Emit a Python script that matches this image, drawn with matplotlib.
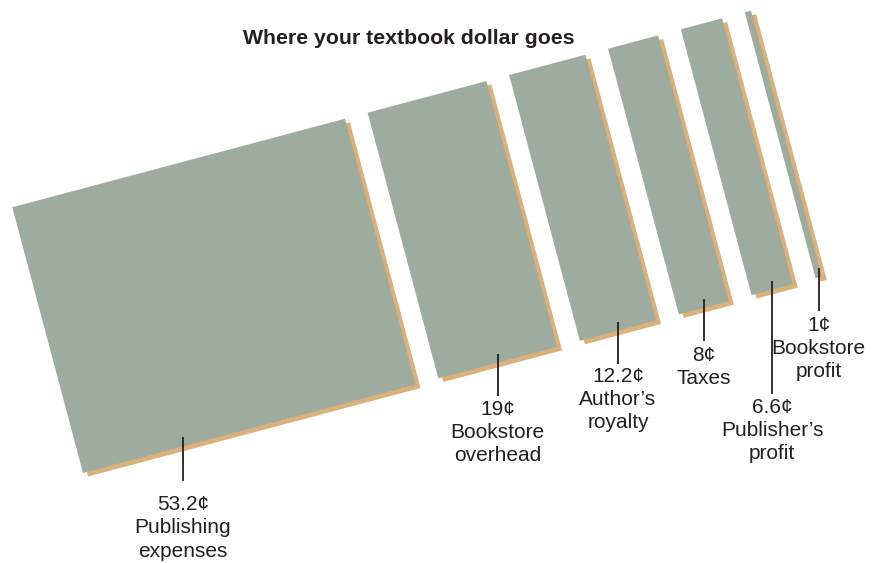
import matplotlib
matplotlib.use("Agg")
import matplotlib.pyplot as plt
from matplotlib.patches import Rectangle
from matplotlib.transforms import Affine2D

# Share of each textbook dollar, in cents
categories = ["Publishing\nexpenses", "Bookstore\noverhead", "Author\u2019s\nroyalty",
              "Taxes", "Publisher\u2019s\nprofit", "Bookstore\nprofit"]
cents = [53.2, 19, 12.2, 8, 6.6, 1]
value_labels = ["53.2\u00a2", "19\u00a2", "12.2\u00a2", "8\u00a2", "6.6\u00a2", "1\u00a2"]

# Layout (figure pixels, y up)
W, Hpx = 872, 563
px_per_cent = 6.47
angle = 14.9
origin = (83, 563 - 473)
bar_height = 275 / px_per_cent
gap = 23.5 / px_per_cent
shadow_dx, shadow_dy = 5, -3.5
leader_frac = [0.30, 0.5, 0.5, 0.5, 0.5, 0.5]
leader_len = [44, 42, 42, 42, 113, 43]
text_gap = [18, 8, 7, 9, 8, 9]

green = "#9eac9f"
orange = "#dbb07b"
ink = "#231f20"

plt.rcParams["font.family"] = ["Liberation Sans", "DejaVu Sans"]

fig = plt.figure(figsize=(W / 100, Hpx / 100), dpi=100)
ax = fig.add_axes([0, 0, 1, 1])
ax.set_xlim(0, W)
ax.set_ylim(0, Hpx)
ax.axis("off")

frame = Affine2D().scale(px_per_cent).rotate_deg(angle).translate(*origin)
shadow_frame = frame + Affine2D().translate(shadow_dx, shadow_dy)

starts = []
pos = 0.0
for v in cents:
    starts.append(pos)
    pos += v + gap

for x0, v in zip(starts, cents):
    ax.add_patch(Rectangle((x0, 0), v, bar_height, facecolor=orange, edgecolor="none",
                           transform=shadow_frame + ax.transData))
for x0, v in zip(starts, cents):
    ax.add_patch(Rectangle((x0, 0), v, bar_height, facecolor=green, edgecolor="none",
                           transform=frame + ax.transData))

for x0, v, f, L, tg, vl, cat in zip(starts, cents, leader_frac, leader_len, text_gap,
                                     value_labels, categories):
    px, py = frame.transform((x0 + f * v, 0))
    top = py + 9
    bottom = top - L
    ax.plot([px, px], [top, bottom], color=ink, lw=1.3, solid_capstyle="butt")
    ax.text(px, bottom - tg + 4, vl + "\n" + cat, ha="center", va="top", fontsize=15,
            color=ink, linespacing=1.27)

ax.text(409, Hpx - 38, "Where your textbook dollar goes", ha="center", va="center",
        fontsize=15.3, fontweight="bold", color=ink)

fig.savefig("out.png", dpi=100)
